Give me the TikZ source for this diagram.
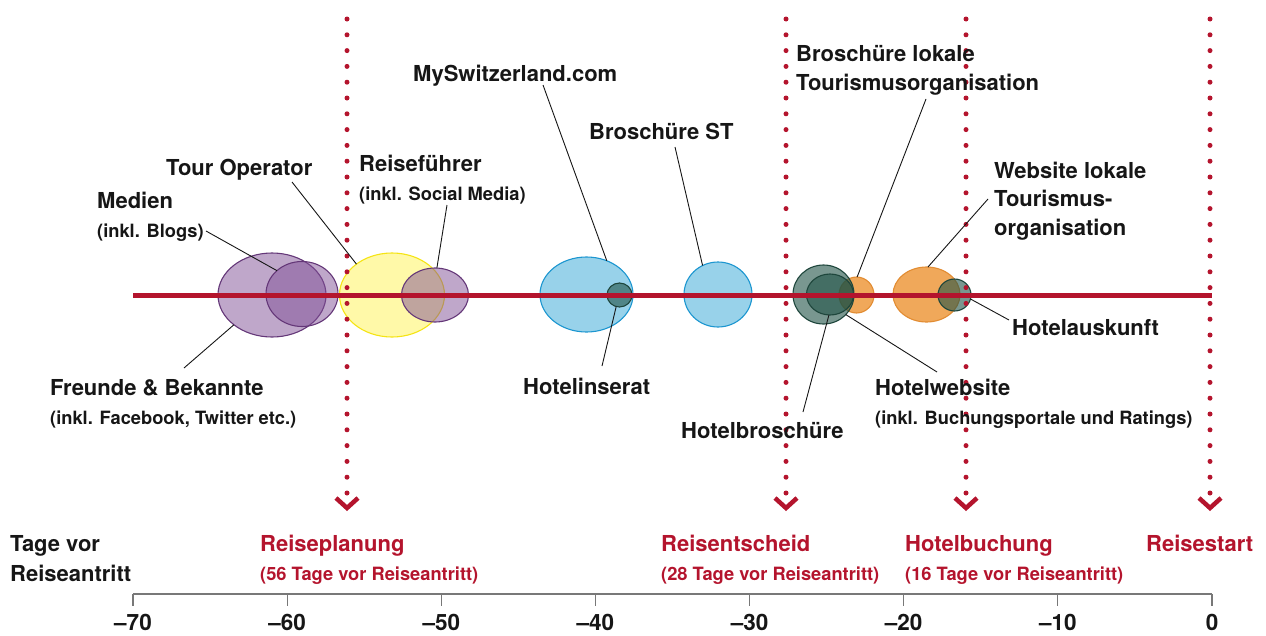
\documentclass[tikz,border=0pt]{standalone}
\usepackage{fontspec}
\setmainfont{TeX Gyre Heros}
\usetikzlibrary{shapes.geometric}
\definecolor{mred}{RGB}{180,20,45}
\definecolor{purpfill}{RGB}{128,80,150}
\definecolor{purpline}{RGB}{100,55,120}
\definecolor{yelfill}{RGB}{255,249,168}
\definecolor{yelline}{RGB}{245,228,20}
\definecolor{blufill}{RGB}{152,210,234}
\definecolor{bluline}{RGB}{28,150,208}
\definecolor{teafill}{RGB}{32,82,70}
\definecolor{tealine}{RGB}{30,70,60}
\definecolor{orafill}{RGB}{240,168,90}
\definecolor{oraline}{RGB}{226,140,50}
\definecolor{axgray}{RGB}{120,120,120}
\definecolor{txt}{RGB}{22,22,22}
\begin{document}
\begin{tikzpicture}[x=1pt,y=-1pt,
  lbl/.style={anchor=base west, inner sep=0pt, text=txt, font=\fontsize{22}{26}\selectfont\bfseries},
  sublbl/.style={anchor=base west, inner sep=0pt, text=txt, font=\fontsize{18.3}{22}\selectfont\bfseries},
  mlbl/.style={anchor=base west, inner sep=0pt, text=mred, font=\fontsize{22}{26}\selectfont\bfseries},
  msub/.style={anchor=base west, inner sep=0pt, text=mred, font=\fontsize{18.3}{22}\selectfont\bfseries},
  ticklbl/.style={anchor=base, inner sep=0pt, text=txt, font=\fontsize{22.5}{26}\selectfont\bfseries},
  blob/.style={ellipse, inner sep=0pt, outer sep=0pt, line width=1.1pt},
  purp/.style={blob, draw=purpline, fill=purpfill, fill opacity=0.5},
  yel/.style={blob, draw=yelline, fill=yelfill},
  blu/.style={blob, draw=bluline, fill=blufill},
  tea/.style={blob, draw=tealine, fill=teafill, fill opacity=0.6},
  ora/.style={blob, draw=oraline, fill=orafill},
  lead/.style={draw=txt, line width=0.9pt},
  redline/.style={draw=mred, line width=5pt},
  dotline/.style={draw=mred, line width=5pt, line cap=round, dash pattern=on 0pt off 15.8pt},
  chev/.style={draw=mred, line width=4.5pt, miter limit=10},
  axisline/.style={draw=axgray, line width=1.2pt}
]
\useasboundingbox (0,0) rectangle (1266,635);
% ellipses
\node[purp, minimum width=108pt, minimum height=84pt] (fre) at (272,295) {};
\node[purp, minimum width=72pt, minimum height=65pt] (med) at (302,294) {};
\node[yel, minimum width=105pt, minimum height=84pt] (tour) at (392,295) {};
\node[purp, minimum width=67pt, minimum height=54pt] (rf) at (435,295) {};
\node[blu, minimum width=93pt, minimum height=75pt] (mys) at (586.5,294.5) {};
\node[tea, minimum width=25pt, minimum height=24pt] (hins) at (619.5,295) {};
\node[blu, minimum width=68pt, minimum height=65pt] (bst) at (718,294.5) {};
\node[ora, minimum width=35pt, minimum height=36pt] (blt) at (856.5,295) {};
\node[tea, minimum width=61pt, minimum height=59pt] (hweb) at (823.5,294.5) {};
\node[tea, minimum width=47pt, minimum height=41pt] (hbro) at (830,294.5) {};
\node[ora, minimum width=67pt, minimum height=55pt] (wlt) at (926.5,294.5) {};
\node[tea, minimum width=33pt, minimum height=32pt] (hausk) at (954.5,295) {};
% red time line
\coordinate (rl) at (133,295);
\coordinate (rr) at (1212,295);
\draw[redline] (rl) -- (rr);
% dotted milestone lines with chevrons
\foreach \x/\n in {347/a,786/b,966/c,1210/d}{
  \coordinate (dt\n) at (\x,19);
  \coordinate (db\n) at (\x,493);
  \draw[dotline] (dt\n) -- (db\n);
  \coordinate (cv\n) at (\x,508);
  \draw[chev] ([xshift=-11pt,yshift=10pt]cv\n) -- (cv\n) -- ([xshift=11pt,yshift=10pt]cv\n);
}
% leader lines
\coordinate (lmed) at (206,231);   \draw[lead] (lmed) -- (med.137);
\coordinate (ltour) at (292,182);  \draw[lead] (ltour) -- (tour.139);
\coordinate (lrf) at (447,205);    \draw[lead] (lrf) -- (rf.86);
\coordinate (lmys) at (543,85);    \draw[lead] (lmys) -- (mys.59);
\coordinate (lbst) at (675,147);   \draw[lead] (lbst) -- (bst.118);
\coordinate (lblt) at (926,99);    \draw[lead] (lblt) -- (blt.88);
\coordinate (lwlt) at (988,199);   \draw[lead] (lwlt) -- (wlt.87);
\coordinate (lfre) at (184,368);   \draw[lead] (lfre) -- (fre.218);
\coordinate (lhins) at (602,366);  \draw[lead] (lhins) -- (hins.254);
\coordinate (lhbro) at (803,412);  \draw[lead] (lhbro) -- (hbro.267);
\coordinate (lhweb) at (937,372);  \draw[lead] (lhweb) -- (hweb.318);
\coordinate (lhausk) at (1009,320); \draw[lead] (lhausk) -- (hausk.346);
% labels
\node[lbl] (tmed) at (97,208) {Medien};
\node[sublbl] (tmed2) at (97,237) {(inkl. Blogs)};
\node[lbl] (ttour) at (166,175) {Tour Operator};
\node[lbl] (trf) at (359,171) {Reiseführer};
\node[sublbl] (trf2) at (359,200) {(inkl. Social Media)};
\node[lbl] (tmys) at (413,81) {MySwitzerland.com};
\node[lbl] (tbst) at (589,139) {Broschüre ST};
\node[lbl] (tblt) at (796,61) {Broschüre lokale};
\node[lbl] (tblt2) at (796,90) {Tourismusorganisation};
\node[lbl] (twlt) at (994,178) {Website lokale};
\node[lbl] (twlt2) at (994,206) {Tourismus-};
\node[lbl] (twlt3) at (994,235) {organisation};
\node[lbl] (tfre) at (50,395) {Freunde \& Bekannte};
\node[sublbl] (tfre2) at (50,424) {(inkl. Facebook, Twitter etc.)};
\node[lbl] (thins) at (523,394) {Hotelinserat};
\node[lbl] (thbro) at (681,438) {Hotelbroschüre};
\node[lbl] (thweb) at (875,395) {Hotelwebsite};
\node[sublbl] (thweb2) at (875,424) {(inkl. Buchungsportale und Ratings)};
\node[lbl] (thausk) at (1012,335) {Hotelauskunft};
% bottom labels
\node[lbl] (ttage) at (10,551) {Tage vor};
\node[lbl] (ttage2) at (10,581) {Reiseantritt};
\node[mlbl] (m1) at (260,551) {Reiseplanung};
\node[msub] (m1b) at (260,580) {(56 Tage vor Reiseantritt)};
\node[mlbl] (m2) at (661,551) {Reisentscheid};
\node[msub] (m2b) at (661,580) {(28 Tage vor Reiseantritt)};
\node[mlbl] (m3) at (905,551) {Hotelbuchung};
\node[msub] (m3b) at (905,580) {(16 Tage vor Reiseantritt)};
\node[mlbl] (m4) at (1146,551) {Reisestart};
% axis
\coordinate (ax0) at (133,594);
\coordinate (ax1) at (1212,594);
\draw[axisline] (ax0) -- (ax1);
\foreach \i/\t in {0/–70,1/–60,2/–50,3/–40,4/–30,5/–20,6/–10,7/0}{
  \coordinate (tk\i) at ({133+\i*154.143},594);
  \draw[axisline] (tk\i) -- ++(0,12);
  \node[ticklbl] (tl\i) at ({133+\i*154.143},630) {\t};
}
\end{tikzpicture}
\end{document}
